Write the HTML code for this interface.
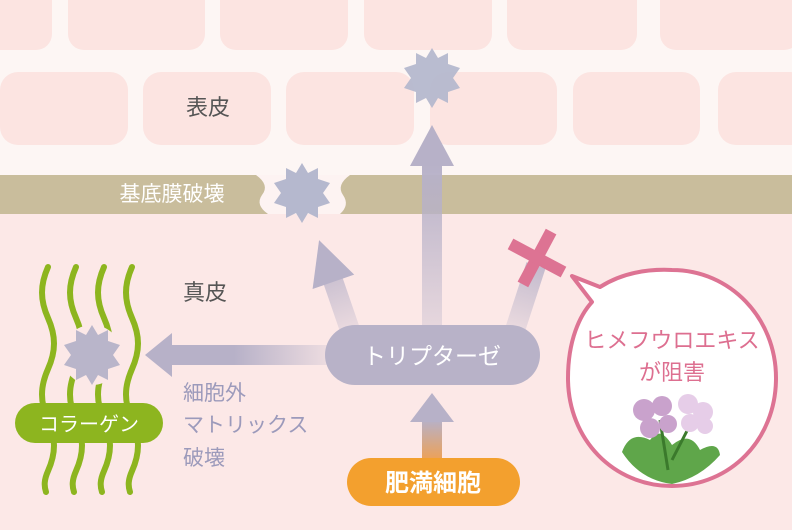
<!DOCTYPE html>
<html><head><meta charset="utf-8"><style>
html,body{margin:0;padding:0}
body{width:792px;height:525px;overflow:hidden;background:#fce8e7;font-family:"Liberation Sans","Noto Sans CJK JP",sans-serif}
</style></head><body>
<svg width="792" height="525" viewBox="0 0 792 525" xmlns="http://www.w3.org/2000/svg" font-family="Liberation Sans, Noto Sans CJK JP, sans-serif">
<defs>
<linearGradient id="gu" x1="0" y1="1" x2="0" y2="0"><stop offset="0" stop-color="#b7b1c8" stop-opacity="0.3"/><stop offset="1" stop-color="#b7b1c8"/></linearGradient>
<linearGradient id="gu2" gradientUnits="userSpaceOnUse" x1="0" y1="330" x2="0" y2="240"><stop offset="0" stop-color="#b7b1c8" stop-opacity="0.25"/><stop offset="1" stop-color="#b7b1c8"/></linearGradient>
<linearGradient id="gl" x1="1" y1="0" x2="0" y2="0"><stop offset="0" stop-color="#b7b1c8" stop-opacity="0.2"/><stop offset="0.6" stop-color="#b7b1c8"/></linearGradient>
<linearGradient id="gm" x1="0" y1="1" x2="0" y2="0"><stop offset="0" stop-color="#f0a050"/><stop offset="1" stop-color="#b7b1c8"/></linearGradient>
<g id="star"><polygon points="0,-30 6,-20 16,-25 16,-14 28,-10 21,0 28,10 16,14 16,25 6,20 0,30 -6,20 -16,25 -16,14 -28,10 -21,0 -28,-10 -16,-14 -16,-25 -6,-20"/></g>
</defs>
<rect x="0" y="0" width="792" height="176" fill="#fdf6f4"/>
<g fill="#fce4e1">
<rect x="-20" y="-20" width="72" height="70" rx="16"/>
<rect x="68" y="-20" width="137" height="70" rx="16"/>
<rect x="220" y="-20" width="128" height="70" rx="16"/>
<rect x="364" y="-20" width="128" height="70" rx="16"/>
<rect x="507" y="-20" width="130" height="70" rx="16"/>
<rect x="660" y="-20" width="140" height="70" rx="16"/>
<rect x="0" y="72" width="128" height="73" rx="18"/>
<rect x="143" y="72" width="128" height="73" rx="18"/>
<rect x="286" y="72" width="128" height="73" rx="18"/>
<rect x="430" y="72" width="127" height="73" rx="18"/>
<rect x="573" y="72" width="127" height="73" rx="18"/>
<rect x="718" y="72" width="90" height="73" rx="18"/>
</g>
<text x="208" y="115" font-size="22" fill="#555" text-anchor="middle">表皮</text>
<rect x="0" y="175" width="792" height="39" fill="#c9bd9c"/>
<path d="M256,175 Q270,185 262,195 Q255,205 268,214 L340,214 Q350,205 343,195 Q336,185 350,175 Z" fill="#fdf3f2"/>
<text x="172" y="201" font-size="21" fill="#fff" text-anchor="middle">基底膜破壊</text>
<!-- arrows -->
<rect x="422" y="165" width="20" height="165" fill="url(#gu)"/>
<polygon points="432,125 410,166 454,166" fill="#b7b1c8"/>
<g transform="rotate(-19 350 330)">
<rect x="340" y="278" width="20" height="55" fill="url(#gu2)"/>
<polygon points="350,235 328,279 372,279" fill="#b7b1c8"/>
</g>
<g transform="rotate(18 515 330)">
<rect x="505" y="262" width="20" height="70" fill="url(#gu2)"/>
</g>
<rect x="170" y="345" width="160" height="20" fill="url(#gl)"/>
<polygon points="145,355 172,333 172,377" fill="#b7b1c8"/>
<rect x="422" y="420" width="20" height="42" fill="url(#gm)"/>
<polygon points="432,393 410,422 454,422" fill="#b7b1c8"/>
<!-- stars -->
<use href="#star" x="432" y="78" fill="#b5b8ce" opacity="0.95"/>
<use href="#star" x="302" y="193" fill="#b5b8ce"/>
<!-- X -->
<g transform="translate(537 258) rotate(28)"><rect x="-6" y="-30" width="12" height="60" fill="#dd7393"/><rect x="-30" y="-6" width="60" height="12" fill="#dd7393"/></g>
<!-- pills -->
<rect x="325" y="325" width="215" height="60" rx="30" fill="#b8b2c8"/>
<text x="432" y="364" font-size="23" fill="#fff" text-anchor="middle">トリプターゼ</text>
<rect x="347" y="458" width="173" height="48" rx="24" fill="#f3a02e"/>
<text x="433" y="491" font-size="24" fill="#fff" text-anchor="middle" font-weight="bold">肥満細胞</text>
<text x="183" y="300" font-size="22" fill="#555">真皮</text>
<g font-size="21" fill="#9c9abb"><text x="183" y="400">細胞外</text><text x="183" y="432">マトリックス</text><text x="183" y="465">破壊</text></g>
<!-- collagen -->
<g stroke="#8db51f" stroke-width="6" fill="none" stroke-linecap="round">
<path d="M48,267 C40,285 40,300 48,318 C56,336 56,351 48,369 C40,387 40,402 48,420 C56,438 56,453 48,471 C44,480 44,486 46,492"/>
<path d="M76,267 C68,285 68,300 76,318 C84,336 84,351 76,369 C68,387 68,402 76,420 C84,438 84,453 76,471 C72,480 72,486 74,492"/>
<path d="M104,267 C96,285 96,300 104,318 C112,336 112,351 104,369 C96,387 96,402 104,420 C112,438 112,453 104,471 C100,480 100,486 102,492"/>
<path d="M132,267 C124,285 124,300 132,318 C140,336 140,351 132,369 C124,387 124,402 132,420 C140,438 140,453 132,471 C128,480 128,486 130,492"/>
</g>
<circle cx="92" cy="355" r="30" fill="#fce8e7"/>
<use href="#star" x="92" y="355" fill="#b9b5ca"/>
<rect x="15" y="403" width="148" height="40" rx="20" fill="#8db51f"/>
<text x="89" y="431" font-size="20" fill="#fff" text-anchor="middle">コラーゲン</text>
<!-- bubble -->
<path d="M572,276 L600,287 Q630,268 672,270 C730,270 776,318 776,378 C776,440 730,486 672,486 C614,486 568,440 568,378 C568,340 580,315 592,302 Z" fill="#fff" stroke="#dd7393" stroke-width="4" stroke-linejoin="round"/>
<g font-size="22" fill="#dd6f90" text-anchor="middle"><text x="672" y="348">ヒメフウロエキス</text><text x="672" y="380">が阻害</text></g>
<g>
<path d="M622,452 Q630,430 650,440 Q660,425 672,445 Q690,430 700,450 Q718,440 720,455 Q700,478 672,484 Q640,480 622,452 Z" fill="#5fa64a"/>
<path d="M660,420 L668,470 M690,425 L672,460" stroke="#3b7a2c" stroke-width="3"/>
<g fill="#c9a2cc"><circle cx="644" cy="410" r="11"/><circle cx="662" cy="406" r="10"/><circle cx="650" cy="428" r="10"/><circle cx="668" cy="424" r="9"/></g>
<g fill="#e6cde8"><circle cx="688" cy="404" r="10"/><circle cx="703" cy="412" r="10"/><circle cx="690" cy="423" r="9"/><circle cx="705" cy="426" r="8"/></g>
</g>
</svg>
</body></html>
